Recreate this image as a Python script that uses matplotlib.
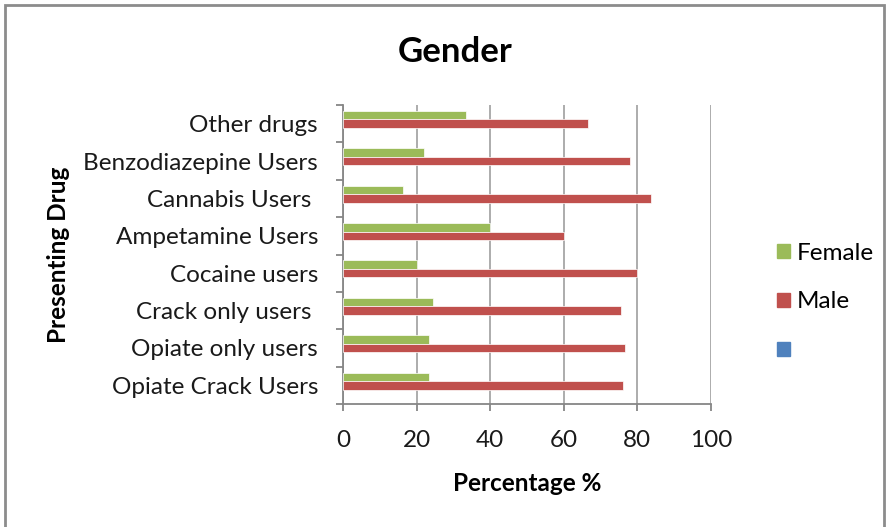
import numpy as np
import matplotlib
matplotlib.use('Agg')
import matplotlib.pyplot as plt
from matplotlib.patches import Patch, Rectangle

# Data (bottom to top)
drugs = ['Opiate Crack Users', 'Opiate only users', 'Crack only users ', 'Cocaine users',
         'Ampetamine Users', 'Cannabis Users ', 'Benzodiazepine Users', 'Other drugs']
female = [23.5, 23.5, 24.5, 20, 40, 16.2, 22.1, 33.3]
male = [76.1, 76.5, 75.5, 80, 60, 83.8, 77.9, 66.7]
blank = [0, 0, 0, 0, 0, 0, 0, 0]

green = '#9BBB59'
red = '#C0504D'
blue = '#4F81BD'
grid_c = '#A6A6A6'

plt.rcParams['font.family'] = ['Lato', 'DejaVu Sans']
fs = 17.5

fig = plt.figure(figsize=(8.89, 5.27), dpi=100)
ax = fig.add_axes([343/889, 1-404/527, (711-343)/889, (404-105)/527])

y = np.arange(len(drugs))
slot = 0.227
h = 0.225
ax.barh(y + slot, female, height=h, color=green, edgecolor='white', linewidth=0.5, zorder=3)
ax.barh(y, male, height=h, color=red, edgecolor='white', linewidth=0.5, zorder=3)
ax.barh(y - slot, blank, height=h, color=blue, linewidth=0, zorder=3)

ax.set_xlim(0, 100)
ax.set_ylim(-0.5, len(drugs) - 0.5)
ax.set_xticks(np.arange(0, 101, 20))
ax.xaxis.grid(True, color=grid_c, linewidth=1.3, zorder=0)

ax.set_yticks(y)
ax.set_yticklabels(drugs, fontsize=fs, color='#1a1a1a')
ax.set_yticks(np.arange(-0.5, len(drugs)), minor=True)
ax.tick_params(axis='y', which='major', length=0, pad=18)
ax.tick_params(axis='y', which='minor', length=5, color='#868686', width=1.3)
ax.tick_params(axis='x', length=5, color='#868686', width=1.3, labelsize=fs, pad=14,
               labelcolor='#1a1a1a')

for s in ['top', 'right']:
    ax.spines[s].set_visible(False)
for s in ['left', 'bottom']:
    ax.spines[s].set_color('#868686')
    ax.spines[s].set_linewidth(1.3)

ax.set_xlabel('Percentage %', fontsize=fs, fontweight='bold', labelpad=15)
ax.set_ylabel('Presenting Drug', fontsize=fs, fontweight='bold')
ax.yaxis.set_label_coords(-(343-70)/368, 0.5)

fig.text(455/889, 1-52/527, 'Gender', ha='center', va='center', fontsize=25, fontweight='bold')

handles = [Patch(color=green), Patch(color=red), Patch(color=blue)]
fig.legend(handles, ['Female', 'Male', ''], loc='center left',
           bbox_to_anchor=(755/889, 1-302/527), frameon=False, fontsize=fs,
           handlelength=0.55, handleheight=0.55, handletextpad=0.25, labelspacing=1.15)

fig.patches.append(Rectangle((5/889, -0.1), (884-5)/889, 1.1 - 5/527, transform=fig.transFigure,
                             fill=False, edgecolor='#8c8c8c', linewidth=2))

fig.savefig('out.png', dpi=100)
